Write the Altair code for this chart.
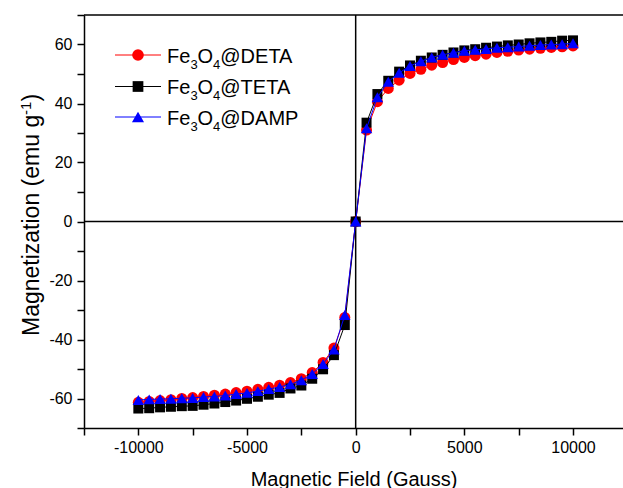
import altair as alt
import pandas as pd

# ---------------- data ----------------
field = [-10000, -9500, -9000, -8500, -8000, -7500, -7000, -6500, -6000, -5500,
         -5000, -4500, -4000, -3500, -3000, -2500, -2000, -1500, -1000, -500,
         0,
         500, 1000, 1500, 2000, 2500, 3000, 3500, 4000, 4500, 5000,
         5500, 6000, 6500, 7000, 7500, 8000, 8500, 9000, 9500, 10000]

deta = [-61.3, -61.0, -60.7, -60.4, -60.0, -59.7, -59.3, -58.9, -58.5, -58.0,
        -57.5, -56.9, -56.2, -55.5, -54.6, -53.3, -51.2, -47.8, -42.9, -32.5,
        0.0,
        31.0, 40.6, 45.1, 47.9, 50.2, 51.6, 53.0, 53.9, 54.9, 55.6,
        56.2, 56.7, 57.3, 57.7, 58.1, 58.4, 58.7, 59.0, 59.2, 59.5]

teta = [-63.4, -63.3, -63.0, -62.8, -62.6, -62.5, -62.1, -61.7, -61.2, -60.7,
        -60.1, -59.4, -58.7, -58.1, -56.6, -55.6, -53.3, -50.1, -45.3, -35.1,
        0.0,
        33.5, 43.2, 47.7, 50.8, 52.9, 54.5, 55.6, 56.5, 57.3, 58.0,
        58.4, 58.9, 59.3, 59.7, 60.0, 60.4, 60.7, 60.9, 61.3, 61.4]

damp = [-60.5, -60.3, -60.2, -60.1, -59.9, -59.8, -59.5, -59.3, -59.0, -58.5,
        -58.1, -57.5, -56.8, -56.1, -55.2, -53.8, -51.7, -48.3, -43.4, -31.7,
        0.0,
        31.6, 42.1, 47.4, 50.4, 52.7, 54.3, 55.6, 56.5, 57.2, 57.9,
        58.2, 58.5, 58.9, 59.1, 59.3, 59.6, 59.8, 60.0, 60.1, 60.4]

series_names = ["DETA", "TETA", "DAMP"]
series_vals = [deta, teta, damp]
colors = ["#FF0000", "#000000", "#0000FF"]
shapes = ["circle", "square", "triangle-up"]
sizes = [121, 100, 132]

x_ticks = [-12500, -10000, -7500, -5000, -2500, 0, 2500, 5000, 7500, 10000]
y_ticks = [-70, -60, -50, -40, -30, -20, -10, 0, 10, 20, 30, 40, 50, 60, 70]

# ---------------- layout ----------------
W, H = 539, 413
FONT = "Liberation Sans"

xscale = alt.Scale(domain=[-12500, 12300], nice=False, zero=False)
yscale = alt.Scale(domain=[-70, 70], nice=False, zero=False)

lbl_x = ("datum.value % 5000 === 0 ? (datum.value < 0 ? '-' + toString(-datum.value) "
         ": toString(datum.value)) : ''")
lbl_y = ("datum.value % 20 === 0 ? (datum.value < 0 ? '-' + toString(-datum.value) "
         ": toString(datum.value)) : ''")

x_axis = alt.Axis(values=x_ticks, labelExpr=lbl_x, title="Magnetic Field (Gauss)",
                  titlePadding=14, labelPadding=4)
y_axis = alt.Axis(values=y_ticks, labelExpr=lbl_y, title="", labelPadding=5)

x_enc = alt.X("H:Q", scale=xscale, axis=x_axis)
y_enc = alt.Y("M:Q", scale=yscale, axis=y_axis)

layers = []
# crosshair lines at zero
layers.append(alt.Chart(pd.DataFrame({"a": [0]})).mark_rule(color="black", strokeWidth=1.5)
              .encode(x=alt.X("a:Q", scale=xscale, axis=x_axis)))
layers.append(alt.Chart(pd.DataFrame({"a": [0]})).mark_rule(color="black", strokeWidth=1.5)
              .encode(y=alt.Y("a:Q", scale=yscale, axis=y_axis)))
# top frame line
layers.append(alt.Chart(pd.DataFrame({"a": [0]})).mark_rule(color="black", strokeWidth=1.5)
              .encode(x=alt.value(0), x2=alt.value(W), y=alt.value(0)))

for name, vals, col, shp, sz in zip(series_names, series_vals, colors, shapes, sizes):
    d = pd.DataFrame({"H": field, "M": vals})
    base = alt.Chart(d)
    layers.append(base.mark_line(color=col, strokeWidth=1).encode(x=x_enc, y=y_enc))
    layers.append(base.mark_point(shape=shp, filled=True, color=col, size=sz, opacity=1)
                  .encode(x=x_enc, y=y_enc))

# ---------------- legend (manual) ----------------
leg_y = [40, 71.5, 102]
leg_rows = []
txt_rows = []
for i, name in enumerate(series_names):
    cy = leg_y[i]
    leg_rows.append({"x1": 31, "x2": 77, "y": cy, "xm": 54, "s": name})
    bl = cy + 7.5
    txt_rows += [
        {"t": "Fe", "x": 83, "y": bl, "fs": 20},
        {"t": "3", "x": 106.5, "y": bl + 6, "fs": 13},
        {"t": "O", "x": 113.5, "y": bl, "fs": 20},
        {"t": "4", "x": 129.1, "y": bl + 6, "fs": 13},
        {"t": "@" + name, "x": 136.3, "y": bl, "fs": 20},
    ]
leg_df = pd.DataFrame(leg_rows)
for i, (col, shp, sz) in enumerate(zip(colors, shapes, sizes)):
    one = leg_df.iloc[[i]]
    layers.append(alt.Chart(one).mark_rule(color=col, strokeWidth=1).encode(
        x=alt.X("x1:Q", scale=None, axis=None), x2="x2:Q", y=alt.Y("y:Q", scale=None, axis=None)))
    layers.append(alt.Chart(one).mark_point(shape=shp, filled=True, color=col, size=sz + 15, opacity=1).encode(
        x=alt.X("xm:Q", scale=None, axis=None), y=alt.Y("y:Q", scale=None, axis=None)))

layers.append(alt.Chart(pd.DataFrame(txt_rows)).mark_text(
    align="left", baseline="alphabetic", font=FONT, color="black").encode(
    x=alt.X("x:Q", scale=None, axis=None), y=alt.Y("y:Q", scale=None, axis=None),
    text="t:N", size=alt.Size("fs:Q", scale=None, legend=None)))

# ---------------- y-axis title (manual, with superscript) ----------------
ytitle = pd.DataFrame([
    {"t": "Magnetization (emu g", "x": -45, "y": 321, "fs": 23},
    {"t": "-1", "x": -53, "y": 100, "fs": 15},
    {"t": ")", "x": -45, "y": 86.5, "fs": 23},
])
layers.append(alt.Chart(ytitle).mark_text(
    align="left", baseline="alphabetic", font=FONT, color="black", angle=270).encode(
    x=alt.X("x:Q", scale=None, axis=None), y=alt.Y("y:Q", scale=None, axis=None),
    text="t:N", size=alt.Size("fs:Q", scale=None, legend=None)))

chart = alt.layer(*layers).properties(
    width=W, height=H,
    autosize=alt.AutoSizeParams(type="none"),
    padding={"left": 84, "top": 15, "right": 0, "bottom": 60},
    background="white",
).configure_view(stroke=None).configure_axis(
    grid=False, domainColor="black", domainWidth=1.5, tickColor="black", tickWidth=1.5,
    tickSize=7, labelFont=FONT, labelFontSize=16, labelColor="black", labelOverlap=False,
    labelFlush=False, titleFont=FONT, titleFontSize=20, titleFontWeight="normal",
    titleColor="black",
)

chart.save("out.html", embed_options={"renderer": "svg", "actions": False})
